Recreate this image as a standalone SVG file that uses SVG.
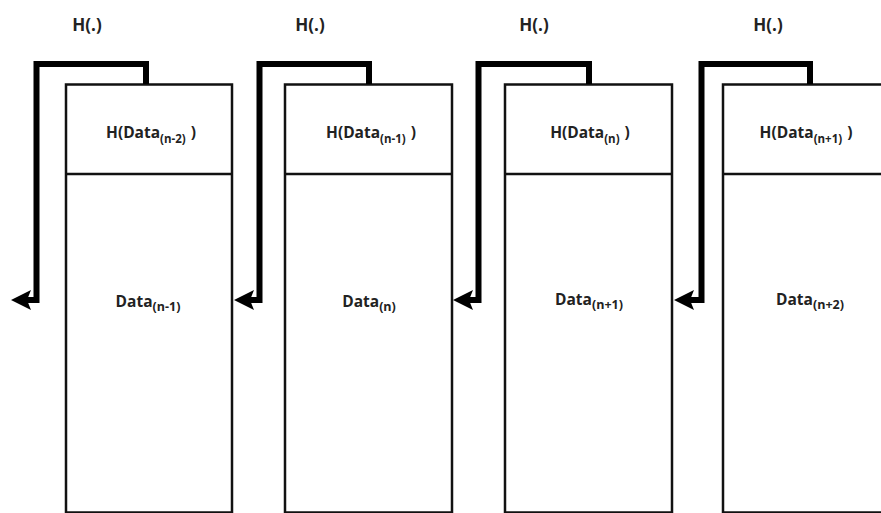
<svg xmlns="http://www.w3.org/2000/svg" width="881" height="513" viewBox="0 0 881 513">
<style>
.box{fill:#fff;stroke:#111;stroke-width:2.5}
.div{stroke:#111;stroke-width:2.5}
.conn{fill:none;stroke:#000;stroke-width:6;stroke-linejoin:miter}
text{font-family:"Open Sans","Liberation Sans",sans-serif;font-weight:bold;fill:#222}
.h{font-size:17px}
.lbl{font-size:15.5px}
.sub{font-size:11.5px}
.bsub{font-size:12.5px}
</style>
<defs>
<marker id="ah" markerUnits="userSpaceOnUse" viewBox="0 -11 22 22" markerWidth="22" markerHeight="22" refX="6" refY="0" orient="auto">
<path d="M0,-10 L20,0 L0,10 L4,0 Z" fill="#000"/>
</marker>
</defs>
<rect width="881" height="513" fill="#fff"/>
<g id="labels-top">
<text class="h" x="87" y="31" text-anchor="middle">H(.)</text>
<text class="h" x="310" y="31" text-anchor="middle">H(.)</text>
<text class="h" x="534" y="31" text-anchor="middle">H(.)</text>
<text class="h" x="768" y="31" text-anchor="middle">H(.)</text>
</g>
<g id="block1">
<rect class="box" x="66" y="84.5" width="166" height="428"/>
<line class="div" x1="66" y1="174" x2="232" y2="174"/>
<text class="lbl" x="151" y="137.5" text-anchor="middle">H(Data<tspan class="sub" dy="5">(n-2)</tspan><tspan dy="-5" dx="5">)</tspan></text>
<text class="lbl" x="148" y="306.5" text-anchor="middle">Data<tspan class="bsub" dy="4">(n-1)</tspan></text>
</g>
<g id="block2">
<rect class="box" x="285" y="84.5" width="167" height="428"/>
<line class="div" x1="285" y1="174" x2="452" y2="174"/>
<text class="lbl" x="371" y="137.5" text-anchor="middle">H(Data<tspan class="sub" dy="5">(n-1)</tspan><tspan dy="-5" dx="5">)</tspan></text>
<text class="lbl" x="369" y="306.5" text-anchor="middle">Data<tspan class="bsub" dy="4">(n)</tspan></text>
</g>
<g id="block3">
<rect class="box" x="505" y="84.5" width="167" height="428"/>
<line class="div" x1="505" y1="174" x2="672" y2="174"/>
<text class="lbl" x="590" y="137.5" text-anchor="middle">H(Data<tspan class="sub" dy="5">(n)</tspan><tspan dy="-5" dx="5">)</tspan></text>
<text class="lbl" x="589" y="304.5" text-anchor="middle">Data<tspan class="bsub" dy="4">(n+1)</tspan></text>
</g>
<g id="block4">
<rect class="box" x="723" y="84.5" width="170" height="428"/>
<line class="div" x1="723" y1="174" x2="893" y2="174"/>
<text class="lbl" x="806" y="137.5" text-anchor="middle">H(Data<tspan class="sub" dy="5">(n+1)</tspan><tspan dy="-5" dx="5">)</tspan></text>
<text class="lbl" x="810" y="304.5" text-anchor="middle">Data<tspan class="bsub" dy="4">(n+2)</tspan></text>
</g>
<g id="connectors">
<path class="conn" d="M146,84 V64 H36.5 V300 H25" marker-end="url(#ah)"/>
<path class="conn" d="M369,84 V64 H259.5 V300 H248" marker-end="url(#ah)"/>
<path class="conn" d="M589,84 V64 H478.5 V300 H467" marker-end="url(#ah)"/>
<path class="conn" d="M810,84 V64 H701.5 V300 H688" marker-end="url(#ah)"/>
</g>
</svg>
